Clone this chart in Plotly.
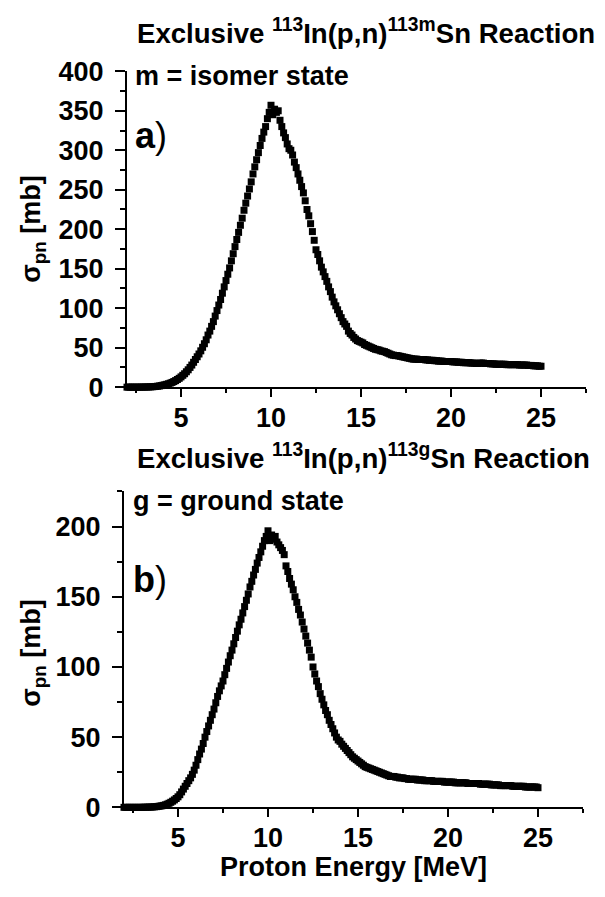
import plotly.graph_objects as go

# Proton energy grid [MeV]
energy = [
    2.0, 2.1, 2.2, 2.3, 2.4, 2.5, 2.6, 2.7, 2.8, 2.9,
    3.0, 3.1, 3.2, 3.3, 3.4, 3.5, 3.6, 3.7, 3.8, 3.9,
    4.0, 4.1, 4.2, 4.3, 4.4, 4.5, 4.6, 4.7, 4.8, 4.9,
    5.0, 5.1, 5.2, 5.3, 5.4, 5.5, 5.6, 5.7, 5.8, 5.9,
    6.0, 6.1, 6.2, 6.3, 6.4, 6.5, 6.6, 6.7, 6.8, 6.9,
    7.0, 7.1, 7.2, 7.3, 7.4, 7.5, 7.6, 7.7, 7.8, 7.9,
    8.0, 8.1, 8.2, 8.3, 8.4, 8.5, 8.6, 8.7, 8.8, 8.9,
    9.0, 9.1, 9.2, 9.3, 9.4, 9.5, 9.6, 9.7, 9.8, 9.9,
    10.0, 10.1, 10.2, 10.3, 10.4, 10.5, 10.6, 10.7, 10.8, 10.9,
    11.0, 11.1, 11.2, 11.3, 11.4, 11.5, 11.6, 11.7, 11.8, 11.9,
    12.0, 12.1, 12.2, 12.3, 12.4, 12.5, 12.6, 12.7, 12.8, 12.9,
    13.0, 13.1, 13.2, 13.3, 13.4, 13.5, 13.6, 13.7, 13.8, 13.9,
    14.0, 14.1, 14.2, 14.3, 14.4, 14.5, 14.6, 14.7, 14.8, 14.9,
    15.0, 15.1, 15.2, 15.3, 15.4, 15.5, 15.6, 15.7, 15.8, 15.9,
    16.0, 16.1, 16.2, 16.3, 16.4, 16.5, 16.6, 16.7, 16.8, 16.9,
    17.0, 17.1, 17.2, 17.3, 17.4, 17.5, 17.6, 17.7, 17.8, 17.9,
    18.0, 18.1, 18.2, 18.3, 18.4, 18.5, 18.6, 18.7, 18.8, 18.9,
    19.0, 19.1, 19.2, 19.3, 19.4, 19.5, 19.6, 19.7, 19.8, 19.9,
    20.0, 20.1, 20.2, 20.3, 20.4, 20.5, 20.6, 20.7, 20.8, 20.9,
    21.0, 21.1, 21.2, 21.3, 21.4, 21.5, 21.6, 21.7, 21.8, 21.9,
    22.0, 22.1, 22.2, 22.3, 22.4, 22.5, 22.6, 22.7, 22.8, 22.9,
    23.0, 23.1, 23.2, 23.3, 23.4, 23.5, 23.6, 23.7, 23.8, 23.9,
    24.0, 24.1, 24.2, 24.3, 24.4, 24.5, 24.6, 24.7, 24.8, 24.9,
    25.0,
]

# Exclusive 113In(p,n)113mSn cross section [mb] (isomer state)
sigma_isomer = [
    0, 0, 0, 0, 0, 0, 0, 0, 0.1, 0.1,
    0.2, 0.2, 0.3, 0.4, 0.5, 0.7, 0.9, 1.2, 1.5, 2.0,
    2.5, 3.0, 3.6, 4.3, 5.1, 6.0, 7.1, 8.3, 9.7, 11.2,
    13, 15, 17, 19.5, 22, 25, 28, 31.5, 35, 38.5,
    42, 46, 50.5, 55, 60, 66, 71, 77, 83, 90,
    97, 104, 111, 119, 127, 135, 143, 151, 160, 169,
    178, 187, 196, 205, 214, 224, 233, 242, 251, 260,
    270, 279, 288, 297, 306, 315, 323, 330, 340, 348,
    357, 345, 352, 348, 350, 338, 330, 322, 316, 308,
    302, 300, 294, 285, 278, 270, 262, 254, 246, 236,
    225, 217, 207, 197, 186, 174, 168, 160, 152, 146,
    140, 134, 127, 121, 114, 108, 103, 98, 93, 88,
    83, 80, 77, 71, 68, 66, 63, 61, 59, 58,
    57, 56, 54, 53, 52, 51, 50, 49, 48, 47.5,
    47, 46, 45.5, 45, 44, 43, 42, 41, 40.5, 40,
    40, 39.5, 39, 38.5, 38, 37.5, 37, 36.5, 36, 35.5,
    35.5, 35.5, 35, 35, 35, 35, 34.5, 34.5, 34, 34,
    34, 33.5, 33.5, 33, 33, 33, 32.5, 32.5, 32.5, 32.5,
    32.5, 32, 32, 32, 31.5, 31.5, 31.5, 31, 31, 31,
    31, 30.5, 30.5, 30.5, 30, 30, 30.5, 30.5, 30.5, 30,
    30, 30, 29.5, 29.5, 29.5, 29, 29, 29, 29, 29,
    29, 28.5, 28.5, 28.5, 28.5, 28.5, 28.5, 28.5, 28, 28,
    28, 28, 28, 27.5, 27.5, 27.5, 27, 27, 27, 26.5,
    26.5,
]

# Exclusive 113In(p,n)113gSn cross section [mb] (ground state)
sigma_ground = [
    0, 0, 0, 0, 0, 0, 0, 0, 0, 0,
    0, 0.1, 0.1, 0.1, 0.2, 0.2, 0.3, 0.4, 0.5, 0.7,
    0.9, 1.1, 1.4, 1.8, 2.3, 2.9, 3.6, 4.4, 5.3, 6.3,
    7.5, 9, 11, 13, 15, 17, 19, 21, 23.5, 26.5,
    30, 34, 38, 41.5, 45.5, 50, 54, 58, 62, 66,
    70, 74.5, 79, 83, 86.5, 90, 94.5, 99, 103.5, 108,
    112, 116.5, 121, 125.5, 130, 134, 138.5, 143, 147.5, 152,
    157, 161, 165.5, 169.5, 174, 178, 182, 186, 190, 193,
    197, 190, 194, 191, 193, 189, 187, 185, 183, 180,
    172, 168, 163, 159, 155, 150, 146, 141, 137, 132,
    127, 122, 117, 112, 107, 100, 95, 90, 86, 81,
    77, 73, 69, 66, 62, 59, 56, 53, 50, 48,
    47, 45, 43.5, 42, 40.5, 39, 37.5, 36, 35, 34,
    33, 32, 31, 30, 29, 28.5, 28, 27.5, 27, 26.5,
    26, 25.5, 25, 24.5, 24, 23.5, 23, 22.5, 22, 22,
    22, 21.5, 21.5, 21, 21, 21, 20.5, 20.5, 20, 20,
    20, 20, 20, 19.5, 19.5, 19.5, 19.5, 19, 19, 19,
    19, 19, 18.5, 18.5, 18.5, 18.5, 18.5, 18.5, 18, 18,
    18, 18, 18, 18, 17.5, 17.5, 17.5, 17.5, 17.5, 17.5,
    17.5, 17, 17, 17, 17, 17, 17, 17, 16.5, 16.5,
    16.5, 16.5, 16.5, 16.5, 16, 16, 16, 16, 16, 15.5,
    15.5, 15.5, 15.5, 15.5, 15.5, 15.5, 15, 15, 15, 15,
    15, 15, 15, 14.5, 14.5, 14.5, 14.5, 14.5, 14.5, 14.5,
    14,
]

x_ticks = [5, 10, 15, 20, 25]
y_ticks_top = [0, 50, 100, 150, 200, 250, 300, 350, 400]
y_ticks_bottom = [0, 50, 100, 150, 200]

# page body has an 8 px margin: size the figure so it fits the window exactly
PAGE_W, PAGE_H, BODY = 605, 897, 8
W, H = PAGE_W - 2 * BODY, PAGE_H - 2 * BODY
FONT = "Liberation Sans, Arial"

def fx(px):
    return (px - BODY) / W

def fy(py):
    return 1 - (py - BODY) / H

fig = go.Figure()

marker = dict(symbol="square", size=7, color="black", line=dict(width=0))
fig.add_trace(go.Scatter(x=energy, y=sigma_isomer, mode="markers", marker=marker,
                         xaxis="x", yaxis="y", cliponaxis=False, showlegend=False))
fig.add_trace(go.Scatter(x=energy, y=sigma_ground, mode="markers", marker=marker,
                         xaxis="x2", yaxis="y2", cliponaxis=False, showlegend=False))

tickfont = dict(family=FONT, size=27, color="black", weight="bold")

def xaxis_cfg(domain, anchor):
    return dict(domain=domain, anchor=anchor, range=[2, 27.5], tickvals=x_ticks,
                ticks="outside", ticklen=8, tickwidth=2, tickcolor="black",
                showline=True, linewidth=2, linecolor="black", showgrid=False,
                zeroline=False, tickfont=tickfont, ticklabelstandoff=-3,
                minor=dict(tickvals=[2.5, 7.5, 12.5, 17.5, 22.5, 27.5], ticks="outside",
                           ticklen=4, tickwidth=2, tickcolor="black"))

def yaxis_cfg(domain, anchor, rng, tv, minor_vals):
    return dict(domain=domain, anchor=anchor, range=rng, tickvals=tv,
                ticks="outside", ticklen=10, tickwidth=2, tickcolor="black",
                showline=True, linewidth=2, linecolor="black", showgrid=False,
                zeroline=False, tickfont=tickfont, ticklabelstandoff=6,
                minor=dict(tickvals=minor_vals, ticks="outside", ticklen=5,
                           tickwidth=2, tickcolor="black"))

fig.update_layout(
    width=W, height=H,
    margin=dict(l=0, r=0, t=0, b=0),
    paper_bgcolor="white", plot_bgcolor="white",
    xaxis=xaxis_cfg([fx(127), fx(586)], "y"),
    yaxis=yaxis_cfg([fy(385), fy(58)], "x", [0, 400], y_ticks_top,
                    [25, 75, 125, 175, 225, 275, 325, 375]),
    xaxis2=xaxis_cfg([fx(124), fx(583)], "y2"),
    yaxis2=yaxis_cfg([fy(820), fy(493)], "x2", [0, 225], y_ticks_bottom,
                     [25, 75, 125, 175, 225]),
)

ann_font = dict(family=FONT, size=27, color="black")
title_font = dict(family=FONT, size=27.6, color="black")
annotations = [
    dict(text="<b>Exclusive <sup>113</sup>In(p,n)<sup>113m</sup>Sn Reaction</b>",
         x=fx(135), y=fy(17), xanchor="left", yanchor="middle", font=title_font),
    dict(text="<b>m = isomer state</b>", x=fx(133), y=fy(63), xanchor="left",
         yanchor="middle", font=ann_font),
    dict(text="<b>a</b>)", x=fx(133), y=fy(124), xanchor="left", yanchor="middle",
         font=dict(family=FONT, size=36, color="black")),
    dict(text="<b>Exclusive <sup>113</sup>In(p,n)<sup>113g</sup>Sn Reaction</b>",
         x=fx(135), y=fy(457), xanchor="left", yanchor="middle", font=title_font),
    dict(text="<b>g = ground state</b>", x=fx(131), y=fy(503), xanchor="left",
         yanchor="middle", font=ann_font),
    dict(text="<b>b</b>)", x=fx(131), y=fy(584), xanchor="left", yanchor="middle",
         font=dict(family=FONT, size=36, color="black")),
    dict(text="<b>σ<sub>pn</sub> [mb]</b>", x=fx(33), y=fy(221), textangle=-90,
         xanchor="center", yanchor="middle", font=ann_font),
    dict(text="<b>σ<sub>pn</sub> [mb]</b>", x=fx(33), y=fy(660), textangle=-90,
         xanchor="center", yanchor="middle", font=ann_font),
    dict(text="<b>Proton Energy [MeV]</b>", x=fx(353), y=fy(882), xanchor="center",
         yanchor="middle", font=ann_font),
]
for a in annotations:
    a.update(xref="paper", yref="paper", showarrow=False)
fig.update_layout(annotations=annotations)

fig.write_html("out.html")
